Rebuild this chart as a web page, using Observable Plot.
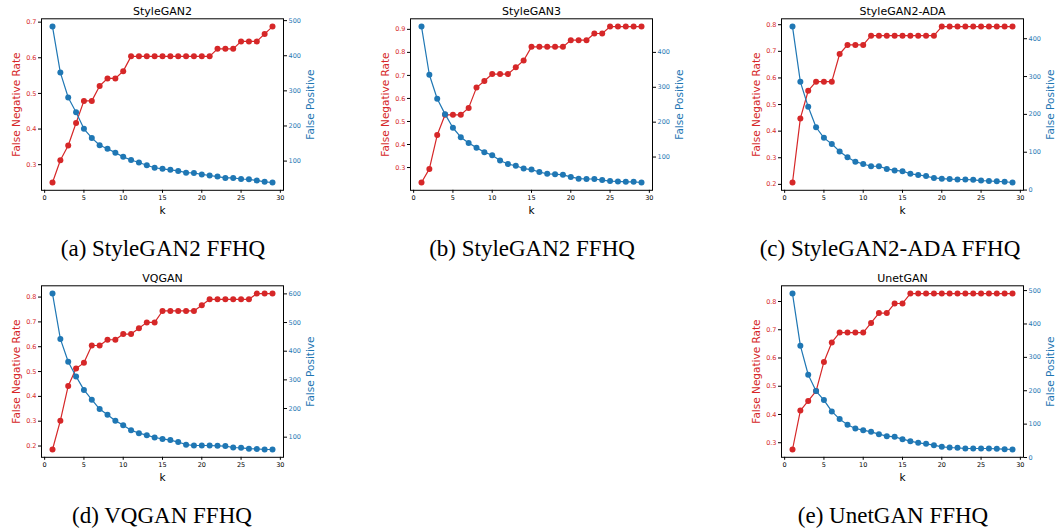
<!DOCTYPE html>
<html><head><meta charset="utf-8">
<script src="https://cdn.jsdelivr.net/npm/d3@7"></script>
<script src="https://cdn.jsdelivr.net/npm/@observablehq/plot@0.6"></script>
<style>
html,body{margin:0;padding:0;background:#fff;overflow:hidden;width:1058px;height:529px;}
#root{position:relative;width:1058px;height:529px;}
.panel{position:absolute;}
.panel svg{position:absolute;left:0;top:0;overflow:visible;background:transparent;}
.cap{position:absolute;width:400px;text-align:center;font-family:"Liberation Serif","Times New Roman",serif;font-size:23px;line-height:23px;color:#000;white-space:nowrap;}
</style></head><body><div id="root"></div>
<script>
// ---------- data ----------
const k = [1,2,3,4,5,6,7,8,9,10,11,12,13,14,15,16,17,18,19,20,21,22,23,24,25,26,27,28,29];
const xTicks = [0,5,10,15,20,25,30];

const titles = ["StyleGAN2","StyleGAN3","StyleGAN2-ADA","VQGAN","UnetGAN"];
const captions = ["(a) StyleGAN2 FFHQ","(b) StyleGAN2 FFHQ","(c) StyleGAN2-ADA FFHQ","(d) VQGAN FFHQ","(e) UnetGAN FFHQ"];

const fnrA = [0.25,0.3125,0.354,0.417,0.479,0.479,0.521,0.542,0.542,0.5625,0.604,0.604,0.604,0.604,0.604,0.604,0.604,0.604,0.604,0.604,0.604,0.625,0.625,0.625,0.646,0.646,0.646,0.667,0.6875];
const fpA  = [483,352,281,239,192,166,145,135,124,112,103,96,88,81,78,75,72,67,66,62,59,56,52,52,49,48,45,41,39];

const fnrB = [0.235,0.294,0.441,0.529,0.529,0.529,0.559,0.647,0.676,0.706,0.706,0.706,0.735,0.765,0.824,0.824,0.824,0.824,0.824,0.853,0.853,0.853,0.882,0.882,0.912,0.912,0.912,0.912,0.912];
const fpB  = [474,336,267,223,184,157,140,127,114,105,90,80,75,67,64,57,52,51,49,43,38,37,37,34,31,30,29,29,27];

const fnrC = [0.207,0.448,0.552,0.586,0.586,0.586,0.690,0.724,0.724,0.724,0.759,0.759,0.759,0.759,0.759,0.759,0.759,0.759,0.759,0.793,0.793,0.793,0.793,0.793,0.793,0.793,0.793,0.793,0.793];
const fpC  = [432,286,220,166,138,122,102,87,75,69,63,63,56,52,50,43,40,37,32,30,29,28,28,27,25,24,23,22,20];

const fnrD = [0.186,0.302,0.442,0.512,0.535,0.605,0.605,0.628,0.628,0.651,0.651,0.674,0.698,0.698,0.744,0.744,0.744,0.744,0.744,0.767,0.791,0.791,0.791,0.791,0.791,0.791,0.814,0.814,0.814];
const fpD  = [601,443,363,312,265,231,198,178,157,142,124,114,107,99,94,90,83,74,71,71,71,70,69,64,63,60,59,57,57];

const fnrE = [0.276,0.414,0.448,0.483,0.586,0.655,0.690,0.690,0.690,0.690,0.724,0.759,0.759,0.793,0.793,0.828,0.828,0.828,0.828,0.828,0.828,0.828,0.828,0.828,0.828,0.828,0.828,0.828,0.828];
const fpE  = [491,335,248,199,172,138,115,98,87,82,77,70,64,62,55,49,44,41,37,32,30,29,27,27,27,27,26,25,24];

const leftTicksA = [0.3,0.4,0.5,0.6,0.7];
const leftTicksB = [0.3,0.4,0.5,0.6,0.7,0.8,0.9];
const leftTicksC = [0.2,0.3,0.4,0.5,0.6,0.7,0.8];
const leftTicksD = [0.2,0.3,0.4,0.5,0.6,0.7,0.8];
const leftTicksE = [0.3,0.4,0.5,0.6,0.7,0.8];
const rightTicksA = [100,200,300,400,500];
const rightTicksB = [100,200,300,400];
const rightTicksC = [0,100,200,300,400];
const rightTicksD = [100,200,300,400,500,600];
const rightTicksE = [0,100,200,300,400,500];

const leftLabel = "False Negative Rate";
const rightLabel = "False Positive";
const xLabel = "k";

// ---------- layout / style ----------
const RED = "#d62728", BLUE = "#1f77b4";
const H = 230, FRAME_W = 242, M_TOP = 18.3, FRAME_H = 171.5, M_LEFT = 41;
const layout = [
  {left:0,     top:0,     width:330, capX:163, capY:236.8},
  {left:368.5, top:0,     width:330, capX:532, capY:236.8},
  {left:740,   top:0,     width:318, capX:890, capY:236.8},
  {left:0,     top:267.4, width:330, capX:162, capY:504.2},
  {left:740,   top:267.4, width:318, capX:893, capY:504.2}
];
const series = [
  [fnrA, fpA, leftTicksA, rightTicksA],
  [fnrB, fpB, leftTicksB, rightTicksB],
  [fnrC, fpC, leftTicksC, rightTicksC],
  [fnrD, fpD, leftTicksD, rightTicksD],
  [fnrE, fpE, leftTicksE, rightTicksE]
];

function pad(v){const [a,b]=d3.extent(v);const m=(b-a)*0.05;return [a-m,b+m];}

const root = document.getElementById("root");
series.forEach(([fnr, fp, lt, rt], i) => {
  const L = layout[i];
  const rows = k.map((kk, j) => ({k: kk, fnr: fnr[j], fp: fp[j]}));
  const div = document.createElement("div");
  div.className = "panel";
  Object.assign(div.style, {left: L.left + "px", top: L.top + "px", width: L.width + "px", height: H + "px"});
  const common = {
    width: L.width, height: H,
    marginLeft: M_LEFT, marginRight: L.width - M_LEFT - FRAME_W,
    marginTop: M_TOP, marginBottom: H - M_TOP - FRAME_H,
    style: {fontFamily: "'DejaVu Sans', sans-serif", background: "transparent", overflow: "visible"}
  };
  const pl = Plot.plot({
    ...common,
    x: {domain: [-0.4, 30.4]},
    y: {domain: pad(fnr)},
    marks: [
      Plot.axisX({ticks: xTicks, tickSize: 3, tickPadding: 2, fontSize: 6.5, label: null, color: "#000"}),
      Plot.axisY({ticks: lt, tickSize: 3, tickPadding: 2, fontSize: 6.5, label: null, color: RED, stroke: "#000", tickFormat: d3.format(".1f")}),
      Plot.line(rows, {x: "k", y: "fnr", stroke: RED, strokeWidth: 1.2}),
      Plot.dot(rows, {x: "k", y: "fnr", fill: RED, r: 3}),
      Plot.text([titles[i]], {text: d => d, frameAnchor: "top", textAnchor: "middle", lineAnchor: "bottom", dy: -4, fontSize: 11, fontWeight: "normal", fill: "#000"}),
      Plot.text([xLabel], {text: d => d, frameAnchor: "bottom", textAnchor: "middle", lineAnchor: "top", dy: 16, fontSize: 10.5, fontWeight: "normal", fill: "#000"}),
      Plot.text([leftLabel], {text: d => d, frameAnchor: "left", textAnchor: "middle", lineAnchor: "middle", dx: -25, rotate: -90, fontSize: 10.5, fill: RED})
    ]
  });
  const pr = Plot.plot({
    ...common,
    x: {domain: [-0.4, 30.4], axis: null},
    y: {domain: pad(fp)},
    marks: [
      Plot.axisY({anchor: "right", ticks: rt, tickSize: 3, tickPadding: 2, fontSize: 6.5, label: null, color: BLUE, stroke: "#000"}),
      Plot.line(rows, {x: "k", y: "fp", stroke: BLUE, strokeWidth: 1.2}),
      Plot.dot(rows, {x: "k", y: "fp", fill: BLUE, r: 3}),
      Plot.text([rightLabel], {text: d => d, frameAnchor: "right", textAnchor: "middle", lineAnchor: "middle", dx: 27, rotate: -90, fontSize: 10.5, fill: BLUE}),
      Plot.frame({stroke: "#000", strokeWidth: 1})
    ]
  });
  div.appendChild(pl);
  div.appendChild(pr);
  root.appendChild(div);

  const cap = document.createElement("div");
  cap.className = "cap";
  cap.textContent = captions[i];
  Object.assign(cap.style, {left: (L.capX - 200) + "px", top: L.capY + "px"});
  root.appendChild(cap);
});
</script></body></html>
